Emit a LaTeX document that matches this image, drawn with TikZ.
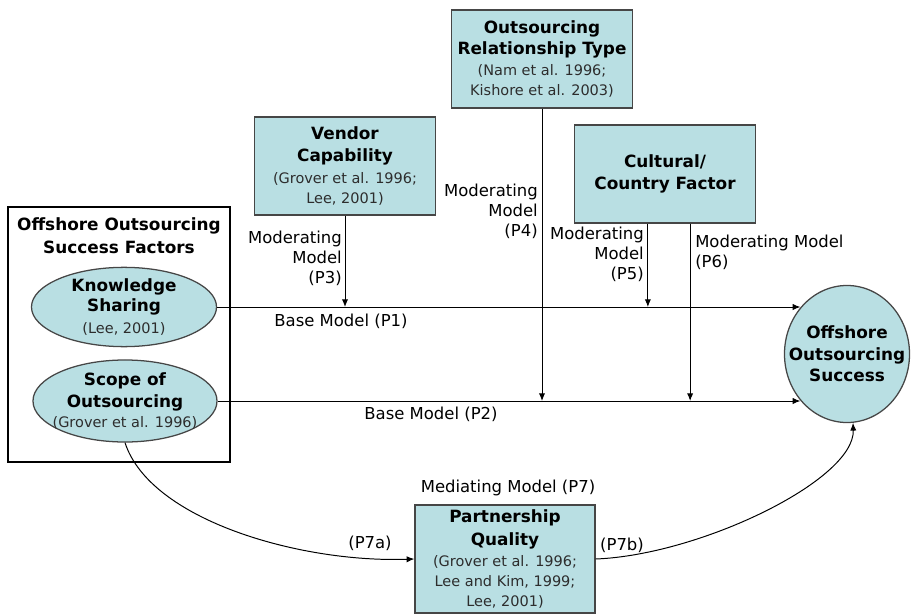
\documentclass[tikz,border=0pt]{standalone}
\usepackage{fontspec}
\setmainfont{DejaVu Sans}
\usetikzlibrary{arrows, arrows.meta, positioning, shapes.geometric}
\definecolor{tealfill}{RGB}{185,223,227}
\definecolor{boxgray}{RGB}{70,70,70}
\definecolor{citegray}{RGB}{45,45,45}
\newcommand\headline[1]{{\fontsize{12}{15}\selectfont\bfseries #1}}
\newcommand\citeline[1]{{\fontsize{10.3}{14}\selectfont\color{citegray}#1}}
\tikzstyle{factor-box}=[draw=boxgray, line width=0.9pt, fill=tealfill, rectangle, align=center, inner xsep=1pt, minimum width=4.525cm, minimum height=2.45cm, font=\fontsize{10.3}{14.2}\selectfont]
\tikzstyle{factor-oval}=[draw=boxgray, line width=0.9pt, fill=tealfill, ellipse, align=center, inner xsep=-15pt, inner ysep=0pt, font=\fontsize{10.3}{14.2}\selectfont]
\tikzstyle{model-label}=[inner sep=0pt, font=\fontsize{11.7}{14.2}\selectfont]
\tikzstyle{link}=[-{Latex[length=5.5pt, width=4.5pt]}, line width=0.7pt]

\begin{document}
\begin{tikzpicture}[x=0.025cm, y=-0.025cm]
\useasboundingbox (0,0) rectangle (912,616);

% success factors
\node[draw, line width=1.3pt, minimum width=5.55cm, minimum height=6.375cm] (factors) at (119,334.5) {};
\node[align=center, inner sep=0pt, font=\fontsize{12}{16.5}\selectfont\bfseries] (factors-title) at (119,236) {Offshore Outsourcing\\Success Factors};
\node[factor-oval, minimum width=4.625cm, minimum height=1.875cm] (knowledge) at (124,307) {\headline{Knowledge}\\\headline{Sharing}\\[1pt]\citeline{(Lee, 2001)}};
\node[factor-oval, minimum width=4.6cm, minimum height=2.05cm] (scope) at (125,401) {\headline{Scope of}\\[1pt]\headline{Outsourcing}\\\citeline{(Grover et al. 1996)}};

\node[factor-oval, minimum width=3.125cm, minimum height=3.425cm] (success) at (847,354) {\headline{Offshore}\\[1pt]\headline{Outsourcing}\\[1pt]\headline{Success}};

% moderators
\node[factor-box] (vendor) at (345,166) {\headline{Vendor}\\[1.5pt]\headline{Capability}\\[1.5pt]\citeline{(Grover et al. 1996;}\\\citeline{Lee, 2001)}};
\node[factor-box] (relation) at (542,59) {\headline{Outsourcing}\\[1pt]\headline{Relationship Type}\\[1pt]\citeline{(Nam et al. 1996;}\\\citeline{Kishore et al. 2003)}};
\node[factor-box] (culture) at (665,174) {\headline{Cultural/}\\[1pt]\headline{Country Factor}};
\node[factor-box, minimum width=4.5cm, minimum height=2.7cm] (partnership) at (505,559) {\headline{Partnership}\\[2pt]\headline{Quality}\\[1pt]\citeline{(Grover et al. 1996;}\\\citeline{Lee and Kim, 1999;}\\\citeline{Lee, 2001)}};

\coordinate (p5-top) at ([xshift=1.85cm]culture.south west);
\coordinate (p6-top) at ([xshift=-1.65cm]culture.south east);

\draw[link] (knowledge) -- (knowledge -| success.135);
\draw[link] (scope) -- (scope -| success.225);
\draw[link] (vendor) -- (vendor |- knowledge);
\draw[link] (relation) -- (relation |- scope);
\draw[link] (p5-top) -- (p5-top |- knowledge);
\draw[link] (p6-top) -- (p6-top |- scope);
\draw[link] (scope.south) .. controls (150,520) and (300,563) .. (partnership.west);
\draw[link] (partnership.east) .. controls (700,555) and (855,480) .. (success.-85);

\node[model-label, align=right, anchor=east] (p3-label) at (342,258) {Moderating\\Model\\(P3)};
\node[model-label, align=right, anchor=east] (p4-label) at (538,211) {Moderating\\Model\\(P4)};
\node[model-label, align=right, anchor=east] (p5-label) at (644,254) {Moderating\\Model\\(P5)};
\node[model-label, align=left, anchor=west] (p6-label) at (695,252) {Moderating Model\\(P6)};
\node[model-label] (p1-label) at (341,321) {Base Model (P1)};
\node[model-label] (p2-label) at (431,414) {Base Model (P2)};
\node[model-label] (p7-label) at (508,488) {Mediating Model (P7)};
\node[model-label] (p7a-label) at (370,543) {(P7a)};
\node[model-label] (p7b-label) at (622,545) {(P7b)};
\end{tikzpicture}
\end{document}
